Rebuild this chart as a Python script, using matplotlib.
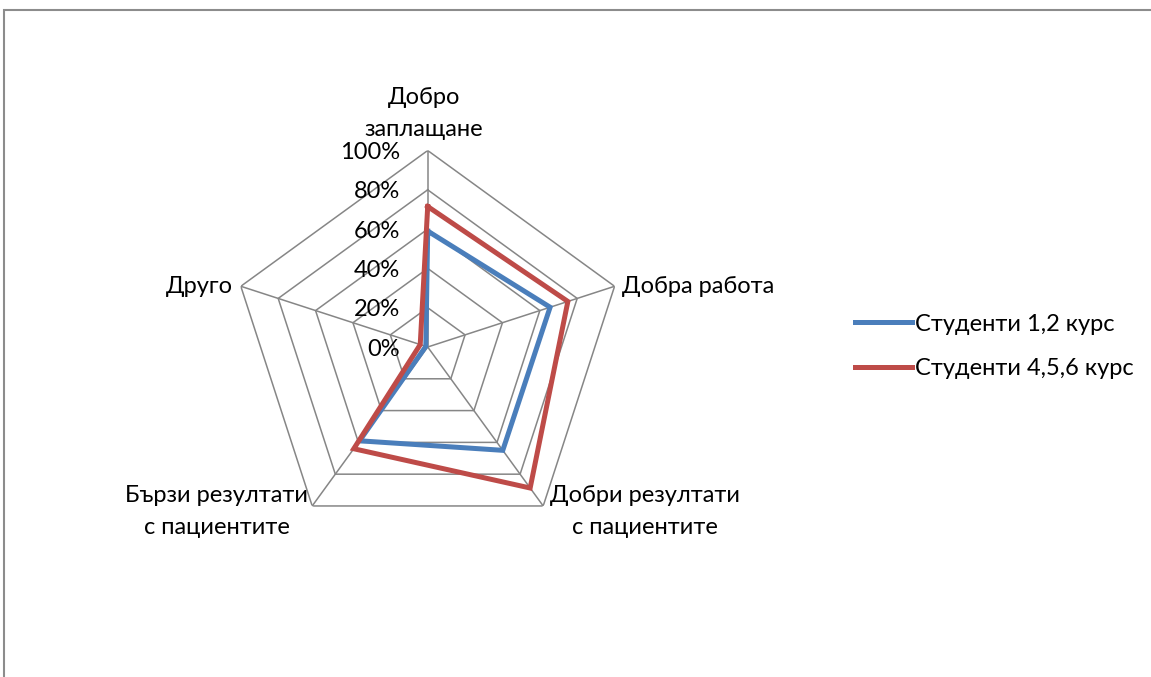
import numpy as np
import matplotlib
matplotlib.use("Agg")
import matplotlib.pyplot as plt
from matplotlib.patches import Rectangle

categories = ["Добро\nзаплащане", "Добра работа", "Добри резултати\nс пациентите",
              "Бързи резултати\nс пациентите", "Друго"]
series_names = ["Студенти 1,2 курс", "Студенти 4,5,6 курс"]
students_12 = [0.59, 0.655, 0.65, 0.59, 0.01]
students_456 = [0.715, 0.75, 0.887, 0.64, 0.04]
ticks = [0.0, 0.2, 0.4, 0.6, 0.8, 1.0]
tick_labels = ["0%", "20%", "40%", "60%", "80%", "100%"]

plt.rcParams['font.family'] = ['Lato', 'DejaVu Sans']
FS = 17
W, H = 1151, 677
fig = plt.figure(figsize=(W / 100, H / 100), dpi=100)

# chart frame (only top and left edges visible)
fig.add_artist(Rectangle((4 / W, -0.1), 1.2, 1.1 - 10 / H, transform=fig.transFigure,
                         fill=False, edgecolor="#8c8c8c", linewidth=1.5))

cx, cy, rad = 427.7, 347.0, 196.5
ax = fig.add_axes([(cx - rad) / W, (H - cy - rad) / H, 2 * rad / W, 2 * rad / H],
                  projection="polar")
ax.set_theta_offset(np.pi / 2)
ax.set_theta_direction(-1)
ax.set_ylim(0, 1)
ax.axis("off")

n = len(categories)
angles = np.arange(n) * 2 * np.pi / n
closed = np.append(angles, angles[0])

grid_c = "#868686"
for r in ticks[1:]:
    ax.plot(closed, [r] * (n + 1), color=grid_c, linewidth=1.1, zorder=1)
for a in angles:
    ax.plot([a, a], [0, 1], color=grid_c, linewidth=1.1, zorder=1)

colors = ["#4A7EBB", "#BE4B48"]
handles = []
for vals, name, c in zip([students_12, students_456], series_names, colors):
    h, = ax.plot(closed, vals + vals[:1], color=c, linewidth=3.6, label=name,
                 solid_joinstyle="miter", zorder=3)
    handles.append(h)

for r, lab in zip(ticks, tick_labels):
    ax.annotate(lab, xy=(0, r), xytext=(-28, -2), textcoords="offset pixels",
                ha="right", va="center", fontsize=FS)

label_pos = [((-4, 10), "center", "bottom"),
             ((7, 0), "left", "center"),
             ((7, -6), "left", "center"),
             ((-4, -6), "right", "center"),
             ((-8, 0), "right", "center")]
for a, lab, (off, ha, va) in zip(angles, categories, label_pos):
    ax.annotate(lab, xy=(a, 1.0), xytext=off, textcoords="offset pixels",
                ha=ha, va=va, fontsize=FS, multialignment="center",
                linespacing=1.65, annotation_clip=False)

fig.legend(handles=handles, loc="center left", bbox_to_anchor=(855 / W, 1 - 346.5 / H),
           frameon=False, fontsize=FS, handlelength=2.4, handletextpad=0.13,
           labelspacing=1.0, borderpad=0, borderaxespad=0)

fig.savefig("out.png", dpi=100)
